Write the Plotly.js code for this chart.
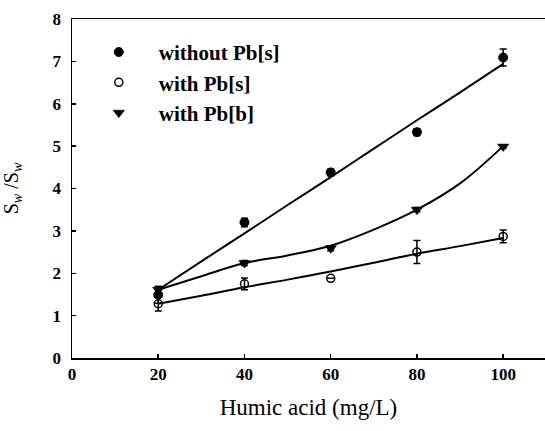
<!DOCTYPE html>
<html>
<head>
<meta charset="utf-8">
<script src="https://cdn.plot.ly/plotly-3.0.1.min.js"></script>
<style>html,body{margin:0;padding:0;background:#fff;}#chart{width:545px;height:431px;}</style>
</head>
<body>
<div id="chart"></div>
<script>
// Data
var humicAcid = [20, 40, 60, 80, 100];
var withoutPbS = [1.49, 3.2, 4.38, 5.33, 7.09];
var withoutPbSErr = [0.2, 0.1, 0.08, 0.08, 0.2];
var withPbS = [1.28, 1.75, 1.88, 2.5, 2.87];
var withPbSErr = [0.17, 0.14, 0, 0.27, 0.15];
var withPbB = [1.61, 2.24, 2.59, 3.5, 4.99];
var withPbBErr = [0.08, 0.06, 0.06, 0.05, 0.04];

// fitted curves
var fitX = [20, 30, 40, 50, 60, 70, 80, 90, 100];
var fitWithoutPbS = [1.61, 2.28, 2.94, 3.61, 4.27, 4.94, 5.61, 6.27, 6.94];
var fitWithPbS = [1.28, 1.47, 1.67, 1.85, 2.04, 2.25, 2.46, 2.64, 2.83];
var fitWithPbB = [1.61, 1.93, 2.24, 2.42, 2.65, 3.03, 3.5, 4.12, 5.0];

var seriesNames = ['without Pb[s]', 'with Pb[s]', 'with Pb[b]'];
var xTicks = [0, 20, 40, 60, 80, 100];
var yTicks = [0, 1, 2, 3, 4, 5, 6, 7, 8];

var fitLine = {color: '#000', width: 2, shape: 'spline', smoothing: 1};
function errY(arr) {
  return {type: 'data', array: arr, visible: true, color: '#000', thickness: 1.5, width: 3.5};
}

var traces = [
  {x: fitX, y: fitWithoutPbS, mode: 'lines', line: fitLine, showlegend: false, hoverinfo: 'skip'},
  {x: fitX, y: fitWithPbS, mode: 'lines', line: fitLine, showlegend: false, hoverinfo: 'skip'},
  {x: fitX, y: fitWithPbB, mode: 'lines', line: fitLine, showlegend: false, hoverinfo: 'skip'},
  {x: humicAcid, y: withoutPbS, name: seriesNames[0], mode: 'markers', error_y: errY(withoutPbSErr),
   marker: {symbol: 'circle', size: 9, color: '#000', line: {color: '#000', width: 1}}},
  {x: humicAcid, y: withPbS, name: seriesNames[1], mode: 'markers', error_y: errY(withPbSErr),
   marker: {symbol: 'circle-open', size: 8, color: '#000', line: {color: '#000', width: 1.5}}},
  {x: humicAcid, y: withPbB, name: seriesNames[2], mode: 'markers', error_y: errY(withPbBErr),
   marker: {symbol: 'triangle-down', size: 10, color: '#000', line: {color: '#000', width: 0.5}}}
];

var serif = '"Liberation Serif", "Times New Roman", serif';
var tickFont = {family: serif, size: 17, color: '#000', weight: 'bold'};

var layout = {
  width: 545, height: 431,
  margin: {l: 72, r: 0, t: 19, b: 73},
  paper_bgcolor: '#fff', plot_bgcolor: '#fff',
  font: {family: serif, color: '#000'},
  showlegend: true,
  legend: {
    x: 0.0144, y: 0.962, xanchor: 'left', yanchor: 'top',
    bgcolor: 'rgba(0,0,0,0)', borderwidth: 0,
    itemwidth: 70,
    font: {family: serif, size: 21, color: '#000', weight: 'bold'}
  },
  xaxis: {
    range: [0, 109.7], tickvals: xTicks, ticktext: xTicks.map(String),
    ticks: 'inside', ticklen: 4, tickwidth: 1.5, tickcolor: '#000',
    showline: true, linewidth: 1.5, linecolor: '#000', mirror: true,
    showgrid: false, zeroline: false,
    tickfont: tickFont, ticklabelstandoff: 0,
    title: {text: 'Humic acid (mg/L)', standoff: 16,
            font: {family: serif, size: 23, color: '#000'}}
  },
  yaxis: {
    range: [0, 8], tickvals: yTicks, ticktext: yTicks.map(String),
    ticks: 'inside', ticklen: 4, tickwidth: 1.5, tickcolor: '#000',
    showline: true, linewidth: 1.5, linecolor: '#000', mirror: false,
    showgrid: false, zeroline: false,
    tickfont: tickFont, ticklabelstandoff: 6,
    title: {text: 'S<sub><i>w</i></sub> /S<sub><i>w</i></sub>', standoff: 30,
            font: {family: serif, size: 20, color: '#000'}}
  },
  yaxis2: {
    overlaying: 'y', side: 'right', range: [0, 8], tickvals: yTicks,
    ticks: 'inside', ticklen: 4, tickwidth: 1.5, tickcolor: '#000',
    showticklabels: false, showline: false, showgrid: false, zeroline: false
  }
};

Plotly.newPlot('chart', traces, layout, {displayModeBar: false, staticPlot: true});
</script>
</body>
</html>
